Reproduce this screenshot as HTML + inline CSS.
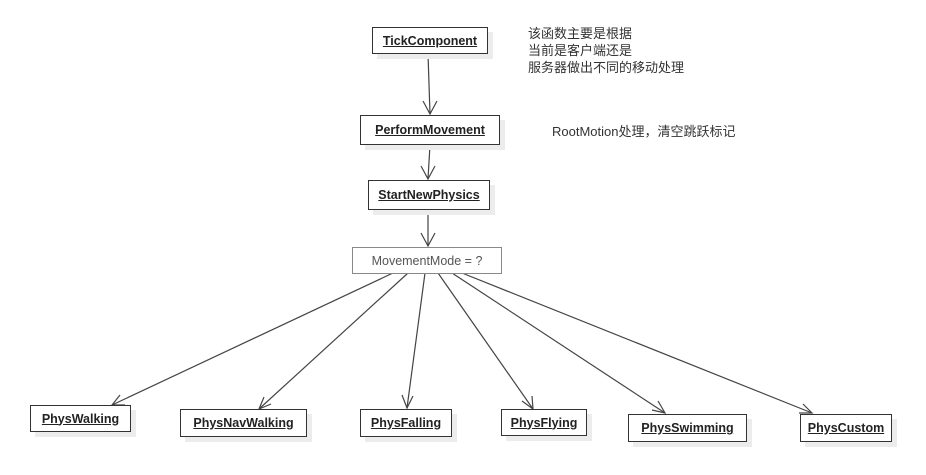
<!DOCTYPE html><html><head><style>
body{margin:0;width:926px;height:475px;background:#fff;position:relative;overflow:hidden;font-family:"Liberation Sans","Noto Sans CJK SC",sans-serif}
.b{position:absolute;border:1.5px solid #333;background:#fff;box-shadow:5px 5px 0 #ececec;font-weight:bold;font-size:12.5px;text-decoration:underline;display:flex;align-items:center;justify-content:center;box-sizing:border-box;color:#222}
.t{position:absolute;font-size:13px;color:#333;line-height:17px}
</style></head><body>
<svg width="926" height="475" style="position:absolute;left:0;top:0">
<g stroke="#444" stroke-width="1.2" fill="none">
<line x1="428" y1="54" x2="430" y2="114"/><polyline points="423,101 430,114 437,101"/>
<line x1="430" y1="145" x2="428" y2="179"/><polyline points="421,166 428,179 435,166"/>
<line x1="428" y1="210" x2="428" y2="246"/><polyline points="421,233 428,246 435,233"/>
<line x1="393" y1="273" x2="112" y2="405"/><polyline points="120,395 112,405 125,405"/>
<line x1="408" y1="273" x2="259" y2="409"/><polyline points="264,397 259,409 271,404"/>
<line x1="425" y1="273" x2="407" y2="408"/><polyline points="402,395 407,408 413,396"/>
<line x1="438" y1="273" x2="533" y2="409"/><polyline points="522,401 533,409 532,396"/>
<line x1="452" y1="273" x2="665" y2="413"/><polyline points="652,410 665,413 658,401"/>
<line x1="462" y1="273" x2="812" y2="413"/><polyline points="799,413 812,413 803,404"/>
</g></svg>
<div class="b" style="left:372px;top:27px;width:116px;height:27px">TickComponent</div>
<div class="b" style="left:360px;top:115px;width:140px;height:30px">PerformMovement</div>
<div class="b" style="left:368px;top:180px;width:122px;height:30px">StartNewPhysics</div>
<div class="b" style="left:352px;top:247px;width:150px;height:27px;font-weight:normal;text-decoration:none;color:#555;box-shadow:none;border-color:#888;border-width:1px">MovementMode = ?</div>
<div class="b" style="left:30px;top:405px;width:101px;height:27px">PhysWalking</div>
<div class="b" style="left:180px;top:409px;width:127px;height:28px">PhysNavWalking</div>
<div class="b" style="left:360px;top:409px;width:92px;height:28px">PhysFalling</div>
<div class="b" style="left:501px;top:409px;width:86px;height:27px">PhysFlying</div>
<div class="b" style="left:628px;top:414px;width:119px;height:28px">PhysSwimming</div>
<div class="b" style="left:800px;top:414px;width:92px;height:28px">PhysCustom</div>
<div class="t" style="left:528px;top:25px">该函数主要是根据<br>当前是客户端还是<br>服务器做出不同的移动处理</div>
<div class="t" style="left:552px;top:123px">RootMotion处理，清空跳跃标记</div>
</body></html>
